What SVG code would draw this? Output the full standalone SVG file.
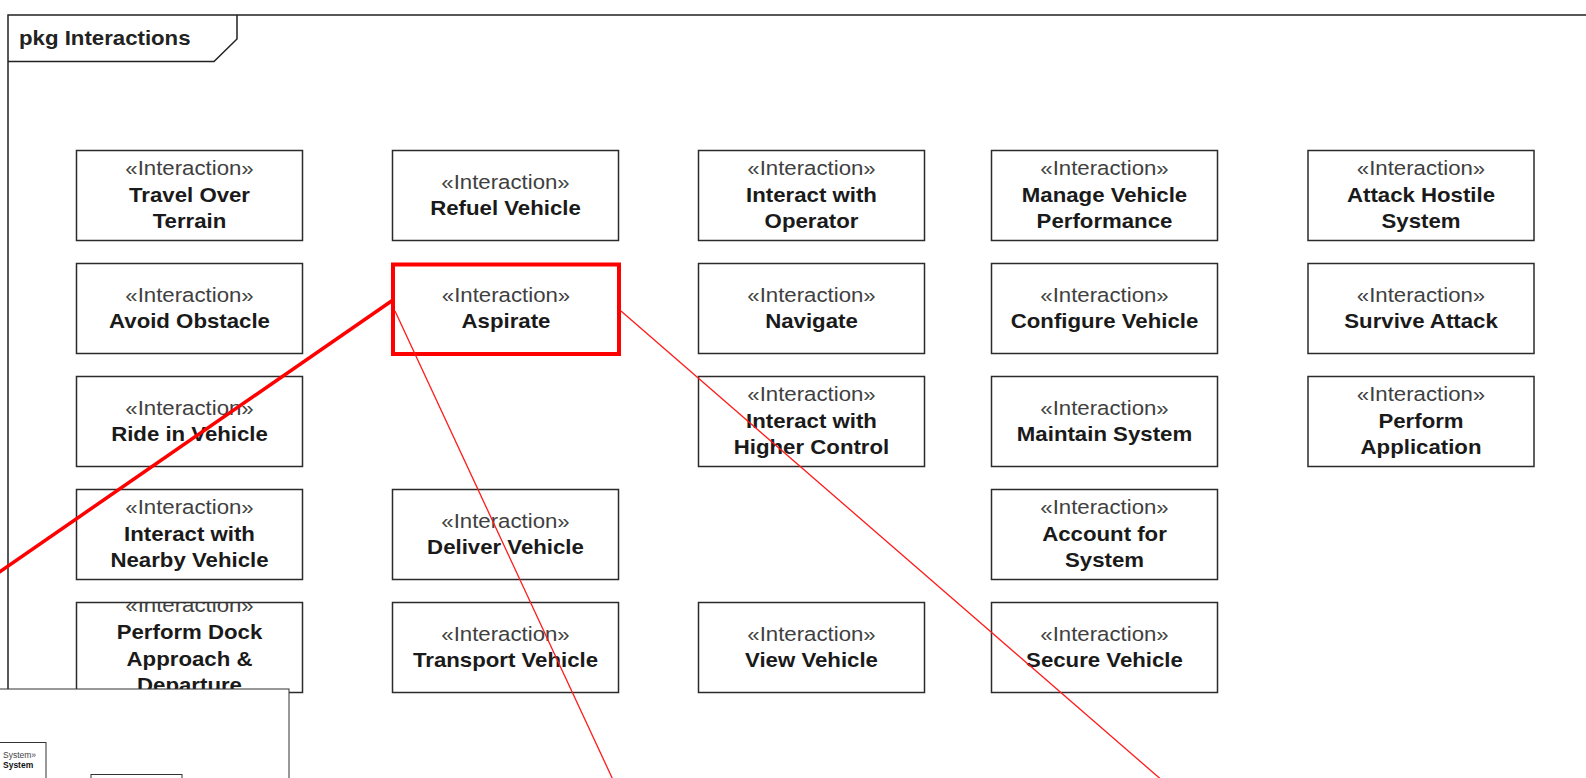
<svg xmlns="http://www.w3.org/2000/svg" width="1586" height="778" viewBox="0 0 1586 778">
<style>
  .box { fill: #ffffff; stroke: #2b2b2b; stroke-width: 1.5; }
  .sel { fill: #ffffff; stroke: #ff0000; stroke-width: 4; }
  .st { font-family: "Liberation Sans", Arial, sans-serif; font-size: 19.5px; fill: #404040; text-anchor: middle; }
  .nm { font-family: "Liberation Sans", Arial, sans-serif; font-size: 19.5px; font-weight: bold; fill: #1a1a1a; text-anchor: middle; }
  .frame { fill: none; stroke: #222222; stroke-width: 1.5; }
  .title { font-family: "Liberation Sans", Arial, sans-serif; font-size: 19.5px; font-weight: bold; fill: #222222; }
  .red-thick { stroke: #ff0000; stroke-width: 3.5; fill: none; }
  .red-thin { stroke: #ff1a1a; stroke-width: 1.3; fill: none; }
  .ist { font-family: "Liberation Sans", Arial, sans-serif; font-size: 8.5px; fill: #444444; }
  .inm { font-family: "Liberation Sans", Arial, sans-serif; font-size: 8.5px; font-weight: bold; fill: #111111; }
  .ibox { fill: #ffffff; stroke: #333333; stroke-width: 1; }
</style>
<defs>
  <clipPath id="clipDock"><rect x="76.5" y="602.5" width="226" height="90"/></clipPath>
</defs>
<rect x="0" y="0" width="1586" height="778" fill="#ffffff"/>

<g id="frame">
  <path class="frame" d="M8,778 L8,15 L1586,15"/>
  <path class="frame" d="M8,61.5 L214,61.5 L237,39 L237,15"/>
  <text class="title" transform="translate(19 45) scale(1.14 1)" x="0" y="0">pkg Interactions</text>
</g>

<!-- Row 1 -->
<g id="travel-over-terrain">
  <rect class="box" x="76.5" y="150.5" width="226" height="90"/>
  <g transform="translate(189.5 0) scale(1.14 1)">
    <text class="st" x="0" y="175">«Interaction»</text>
    <text class="nm" x="0" y="202">Travel Over</text>
    <text class="nm" x="0" y="228.5">Terrain</text>
  </g>
</g>
<g id="refuel-vehicle">
  <rect class="box" x="392.5" y="150.5" width="226" height="90"/>
  <g transform="translate(505.5 0) scale(1.14 1)">
    <text class="st" x="0" y="189">«Interaction»</text>
    <text class="nm" x="0" y="215.5">Refuel Vehicle</text>
  </g>
</g>
<g id="interact-with-operator">
  <rect class="box" x="698.5" y="150.5" width="226" height="90"/>
  <g transform="translate(811.5 0) scale(1.14 1)">
    <text class="st" x="0" y="175">«Interaction»</text>
    <text class="nm" x="0" y="202">Interact with</text>
    <text class="nm" x="0" y="228.5">Operator</text>
  </g>
</g>
<g id="manage-vehicle-performance">
  <rect class="box" x="991.5" y="150.5" width="226" height="90"/>
  <g transform="translate(1104.5 0) scale(1.14 1)">
    <text class="st" x="0" y="175">«Interaction»</text>
    <text class="nm" x="0" y="202">Manage Vehicle</text>
    <text class="nm" x="0" y="228.5">Performance</text>
  </g>
</g>
<g id="attack-hostile-system">
  <rect class="box" x="1308" y="150.5" width="226" height="90"/>
  <g transform="translate(1421 0) scale(1.14 1)">
    <text class="st" x="0" y="175">«Interaction»</text>
    <text class="nm" x="0" y="202">Attack Hostile</text>
    <text class="nm" x="0" y="228.5">System</text>
  </g>
</g>

<!-- Row 2 -->
<g id="avoid-obstacle">
  <rect class="box" x="76.5" y="263.5" width="226" height="90"/>
  <g transform="translate(189.5 0) scale(1.14 1)">
    <text class="st" x="0" y="302">«Interaction»</text>
    <text class="nm" x="0" y="328.5">Avoid Obstacle</text>
  </g>
</g>
<g id="aspirate">
  <rect class="sel" x="393" y="264.5" width="226" height="89.5"/>
  <g transform="translate(506 0) scale(1.14 1)">
    <text class="st" x="0" y="302">«Interaction»</text>
    <text class="nm" x="0" y="328.5">Aspirate</text>
  </g>
</g>
<g id="navigate">
  <rect class="box" x="698.5" y="263.5" width="226" height="90"/>
  <g transform="translate(811.5 0) scale(1.14 1)">
    <text class="st" x="0" y="302">«Interaction»</text>
    <text class="nm" x="0" y="328.5">Navigate</text>
  </g>
</g>
<g id="configure-vehicle">
  <rect class="box" x="991.5" y="263.5" width="226" height="90"/>
  <g transform="translate(1104.5 0) scale(1.14 1)">
    <text class="st" x="0" y="302">«Interaction»</text>
    <text class="nm" x="0" y="328.5">Configure Vehicle</text>
  </g>
</g>
<g id="survive-attack">
  <rect class="box" x="1308" y="263.5" width="226" height="90"/>
  <g transform="translate(1421 0) scale(1.14 1)">
    <text class="st" x="0" y="302">«Interaction»</text>
    <text class="nm" x="0" y="328.5">Survive Attack</text>
  </g>
</g>

<!-- Row 3 -->
<g id="ride-in-vehicle">
  <rect class="box" x="76.5" y="376.5" width="226" height="90"/>
  <g transform="translate(189.5 0) scale(1.14 1)">
    <text class="st" x="0" y="415">«Interaction»</text>
    <text class="nm" x="0" y="441.5">Ride in Vehicle</text>
  </g>
</g>
<g id="interact-with-higher-control">
  <rect class="box" x="698.5" y="376.5" width="226" height="90"/>
  <g transform="translate(811.5 0) scale(1.14 1)">
    <text class="st" x="0" y="401">«Interaction»</text>
    <text class="nm" x="0" y="428">Interact with</text>
    <text class="nm" x="0" y="454.5">Higher Control</text>
  </g>
</g>
<g id="maintain-system">
  <rect class="box" x="991.5" y="376.5" width="226" height="90"/>
  <g transform="translate(1104.5 0) scale(1.14 1)">
    <text class="st" x="0" y="415">«Interaction»</text>
    <text class="nm" x="0" y="441.5">Maintain System</text>
  </g>
</g>
<g id="perform-application">
  <rect class="box" x="1308" y="376.5" width="226" height="90"/>
  <g transform="translate(1421 0) scale(1.14 1)">
    <text class="st" x="0" y="401">«Interaction»</text>
    <text class="nm" x="0" y="428">Perform</text>
    <text class="nm" x="0" y="454.5">Application</text>
  </g>
</g>

<!-- Row 4 -->
<g id="interact-with-nearby-vehicle">
  <rect class="box" x="76.5" y="489.5" width="226" height="90"/>
  <g transform="translate(189.5 0) scale(1.14 1)">
    <text class="st" x="0" y="514">«Interaction»</text>
    <text class="nm" x="0" y="541">Interact with</text>
    <text class="nm" x="0" y="567.5">Nearby Vehicle</text>
  </g>
</g>
<g id="deliver-vehicle">
  <rect class="box" x="392.5" y="489.5" width="226" height="90"/>
  <g transform="translate(505.5 0) scale(1.14 1)">
    <text class="st" x="0" y="528">«Interaction»</text>
    <text class="nm" x="0" y="554.5">Deliver Vehicle</text>
  </g>
</g>
<g id="account-for-system">
  <rect class="box" x="991.5" y="489.5" width="226" height="90"/>
  <g transform="translate(1104.5 0) scale(1.14 1)">
    <text class="st" x="0" y="514">«Interaction»</text>
    <text class="nm" x="0" y="541">Account for</text>
    <text class="nm" x="0" y="567.5">System</text>
  </g>
</g>

<!-- Row 5 -->
<g id="perform-dock-approach-departure">
  <rect class="box" x="76.5" y="602.5" width="226" height="90"/>
  <g clip-path="url(#clipDock)">
    <g transform="translate(189.5 0) scale(1.14 1)">
      <text class="st" x="0" y="612">«Interaction»</text>
      <text class="nm" x="0" y="639.5">Perform Dock</text>
      <text class="nm" x="0" y="666">Approach &amp;</text>
      <text class="nm" x="0" y="692.5">Departure</text>
    </g>
  </g>
</g>
<g id="transport-vehicle">
  <rect class="box" x="392.5" y="602.5" width="226" height="90"/>
  <g transform="translate(505.5 0) scale(1.14 1)">
    <text class="st" x="0" y="641">«Interaction»</text>
    <text class="nm" x="0" y="667.5">Transport Vehicle</text>
  </g>
</g>
<g id="view-vehicle">
  <rect class="box" x="698.5" y="602.5" width="226" height="90"/>
  <g transform="translate(811.5 0) scale(1.14 1)">
    <text class="st" x="0" y="641">«Interaction»</text>
    <text class="nm" x="0" y="667.5">View Vehicle</text>
  </g>
</g>
<g id="secure-vehicle">
  <rect class="box" x="991.5" y="602.5" width="226" height="90"/>
  <g transform="translate(1104.5 0) scale(1.14 1)">
    <text class="st" x="0" y="641">«Interaction»</text>
    <text class="nm" x="0" y="667.5">Secure Vehicle</text>
  </g>
</g>

<g id="connectors">
  <line class="red-thick" x1="393" y1="300" x2="-2" y2="573"/>
  <line class="red-thin" x1="395" y1="311" x2="614" y2="782"/>
  <line class="red-thin" x1="621" y1="311" x2="1164" y2="782"/>
</g>

<g id="inset">
  <rect class="ibox" x="-2" y="689" width="291" height="100"/>
  <rect class="ibox" x="-2" y="742.5" width="48" height="50"/>
  <text class="ist" x="3" y="757.5">System»</text>
  <text class="inm" x="3" y="768">System</text>
  <rect class="ibox" x="91" y="774.5" width="91" height="20"/>
</g>
</svg>
